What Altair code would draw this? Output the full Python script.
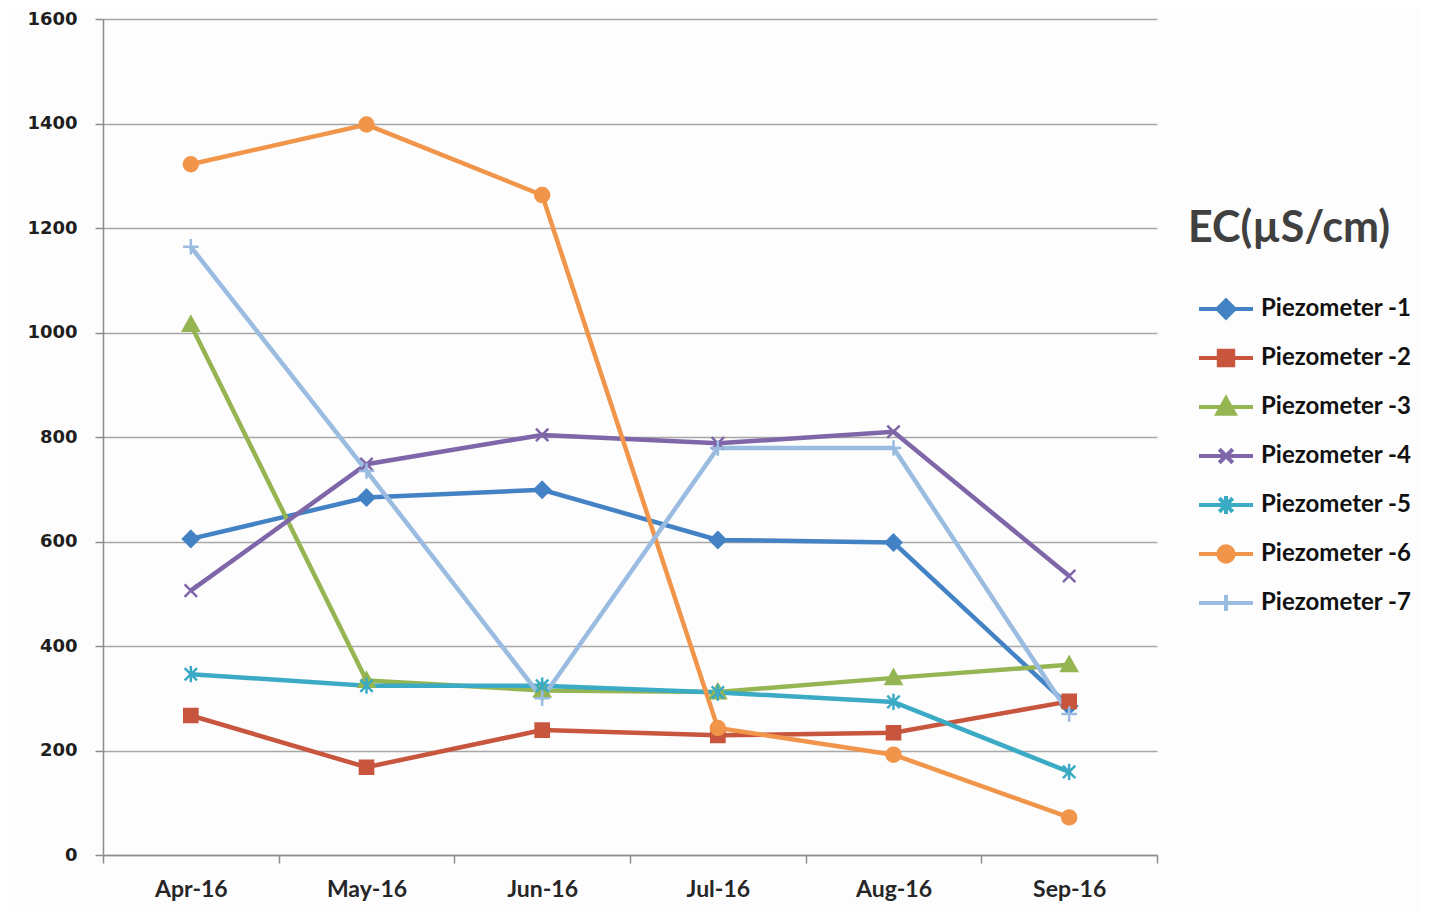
import altair as alt
import pandas as pd

months = ["Apr-16", "May-16", "Jun-16", "Jul-16", "Aug-16", "Sep-16"]
series = ["Piezometer -1", "Piezometer -2", "Piezometer -3", "Piezometer -4",
          "Piezometer -5", "Piezometer -6", "Piezometer -7"]

p1 = [605, 684, 699, 603, 598, 285]
p2 = [267, 168, 239, 229, 234, 294]
p3 = [1015, 334, 315, 312, 339, 364]
p4 = [506, 748, 804, 788, 810, 534]
p5 = [346, 324, 324, 311, 293, 159]
p6 = [1322, 1398, 1263, 243, 192, 72]
p7 = [1164, 735, 300, 779, 779, 270]
values = [p1, p2, p3, p4, p5, p6, p7]

colors = ["#4382C4", "#C8553D", "#95B552", "#7E66A8", "#3BAAC4", "#F0954A", "#9ABCE0"]

marker_paths = [
    "M0,-1L1,0L0,1L-1,0Z",
    "M-0.85,-0.85L0.85,-0.85L0.85,0.85L-0.85,0.85Z",
    "M0,-1L1,0.8L-1,0.8Z",
    "M-0.8,-0.8L0.8,0.8M-0.8,0.8L0.8,-0.8",
    "M-0.8,-0.8L0.8,0.8M-0.8,0.8L0.8,-0.8M0,-1.05L0,1.05",
    "M-0.9,0A0.9,0.9 0 1,0 0.9,0A0.9,0.9 0 1,0 -0.9,0Z",
    "M-1,0L1,0M0,-1L0,1",
]
legend_paths = [
    "M-3,0L3,0M0,-0.95L0.95,0L0,0.95L-0.95,0Z",
    "M-3,0L3,0M-0.8,-0.8L0.8,-0.8L0.8,0.8L-0.8,0.8Z",
    "M-3,0L3,0M0,-0.95L0.95,0.75L-0.95,0.75Z",
    "M-3,0L3,0M-0.75,-0.75L0.75,0.75M-0.75,0.75L0.75,-0.75",
    "M-3,0L3,0M-0.75,-0.75L0.75,0.75M-0.75,0.75L0.75,-0.75M0,-1L0,1",
    "M-3,0L3,0M-0.85,0A0.85,0.85 0 1,0 0.85,0A0.85,0.85 0 1,0 -0.85,0Z",
    "M-3,0L3,0M0,-0.9L0,0.9",
]

rows = []
for s, vals, mk in zip(series, values, marker_paths):
    for m, v in zip(months, vals):
        rows.append({"series": s, "month": m, "value": v, "marker": mk})
df = pd.DataFrame(rows)

x = alt.X("month:N", sort=months,
          scale=alt.Scale(type="band", domain=months, paddingInner=0, paddingOuter=0),
          axis=alt.Axis(title=None, tickBand="extent", labelAngle=0, grid=False,
                        tickSize=8, tickColor="#8c8c8c", tickWidth=1.5,
                        domainColor="#8c8c8c", domainWidth=1.5,
                        labelFont="Lato", labelFontSize=23, labelFontWeight="bold",
                        labelColor="#262626", labelPadding=15))
y = alt.Y("value:Q", scale=alt.Scale(domain=[0, 1600], nice=False),
          axis=alt.Axis(title=None, values=list(range(0, 1601, 200)), grid=True, format="d",
                        gridColor="#a8a8a8", gridWidth=1.4,
                        tickSize=8, tickColor="#8c8c8c", tickWidth=1.5,
                        domainColor="#8c8c8c", domainWidth=1.5,
                        labelFont="DejaVu Sans", labelFontSize=18, labelFontWeight="bold",
                        labelColor="#1e1e1e", labelPadding=18))

cscale = alt.Scale(domain=series, range=colors)

base = alt.Chart(df)

lines = base.mark_line(strokeWidth=4.5).encode(
    x=x, y=y,
    color=alt.Color("series:N", scale=cscale, legend=None),
)

points = base.mark_point(filled=True, size=240, strokeWidth=2.5, opacity=1).encode(
    x=x, y=y,
    color=alt.Color("series:N", scale=cscale, legend=None),
    stroke=alt.Stroke("series:N", scale=cscale, legend=None),
    shape=alt.Shape("marker:N", scale=None),
)

leg = dict(title="EC(µS/cm)", orient="none", legendX=1085, legendY=189,
           titleFont="Lato", titleFontSize=43, titleFontWeight="bold", titleColor="#404040",
           titleLimit=400, titlePadding=46, labelFont="Lato", labelFontSize=24,
           labelFontWeight="bold", labelColor="#111111", symbolSize=324, symbolStrokeWidth=4,
           symbolOpacity=1, symbolOffset=26, labelOffset=23, rowPadding=15, padding=0,
           gridAlign="all", labelLimit=300)

legend_layer = base.mark_point(filled=True, opacity=1).encode(
    color=alt.Color("series:N", scale=cscale, legend=alt.Legend(**leg)),
    stroke=alt.Stroke("series:N", scale=cscale, legend=alt.Legend(**leg)),
    shape=alt.Shape("series:N", scale=alt.Scale(domain=series, range=legend_paths),
                    legend=alt.Legend(**leg)),
).transform_filter("false")

chart = alt.layer(lines, points, legend_layer).resolve_legend(
    color="independent", stroke="independent", shape="independent"
).properties(
    width=1054, height=836,
    autosize=alt.AutoSizeParams(type="none"),
    padding={"left": 95, "top": 11, "right": 262, "bottom": 56},
    background="#fdfdfd",
).configure_view(stroke=None)

chart.save("out.html", embed_options={"renderer": "svg", "actions": False})
